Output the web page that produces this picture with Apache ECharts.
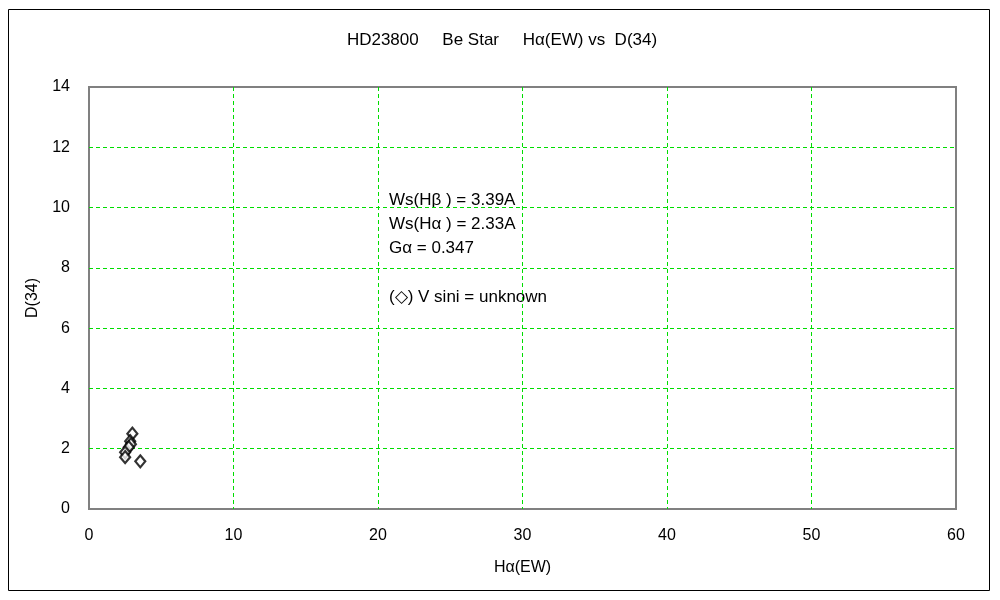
<!DOCTYPE html>
<html><head><meta charset="utf-8">
<script src="https://cdn.jsdelivr.net/npm/echarts@6/dist/echarts.min.js"></script>
<style>html,body{margin:0;padding:0;background:#fff;}#c{width:1000px;height:600px;}</style>
</head><body><div id="c"></div>
<script>
var titleText = 'HD23800     Be Star     H\u03b1(EW) vs  D(34)';
var xName = 'H\u03b1(EW)';
var yName = 'D(34)';
var haEW = [3.0, 2.85, 2.9, 2.75, 2.5, 2.5, 3.55];
var d34 = [2.5, 2.25, 2.15, 2.05, 1.88, 1.72, 1.58];
var notes = ['Ws(H\u03b2 ) = 3.39A', 'Ws(H\u03b1 ) = 2.33A', 'G\u03b1 = 0.347', '', '(\u25c7) V sini = unknown'];

var chart = echarts.init(document.getElementById('c'), null, {renderer:'canvas'});
var font = 'Liberation Sans';
var fs = 16;
var gridStyle = {show:true, showMinLine:false, showMaxLine:false, lineStyle:{color:'#00dd00', type:[4,3], width:1}};
chart.setOption({
  animation:false,
  backgroundColor:'#fff',
  title:{text:titleText, left:497, top:27, textAlign:'center',
    textStyle:{fontFamily:font, fontSize:17, fontWeight:'normal', color:'#000'}},
  grid:{left:89, right:44, top:87, bottom:91, show:true, borderColor:'#808080', borderWidth:2, backgroundColor:'transparent'},
  xAxis:{type:'value', min:0, max:60, interval:10, name:xName, nameLocation:'middle', nameGap:51,
    nameTextStyle:{fontFamily:font, fontSize:fs, color:'#000'},
    axisLine:{show:false}, axisTick:{show:false},
    axisLabel:{fontFamily:font, fontSize:fs, color:'#000', margin:19},
    splitLine:gridStyle},
  yAxis:{type:'value', min:0, max:14, interval:2, name:yName, nameLocation:'middle', nameGap:48,
    nameTextStyle:{fontFamily:font, fontSize:fs, color:'#000'},
    axisLine:{show:false}, axisTick:{show:false},
    axisLabel:{fontFamily:font, fontSize:fs, color:'#000', margin:19},
    splitLine:gridStyle},
  graphic:[
    {type:'rect', shape:{x:8.5, y:9.5, width:981, height:581}, style:{fill:'none', stroke:'#000', lineWidth:1}, z:-1},
    {type:'text', left:389, top:188, style:{text:notes.join('\n'), fontFamily:font, fontSize:17, lineHeight:24.3, fill:'#000'}}
  ],
  series:[{type:'scatter', data:haEW.map(function(v,i){return [v,d34[i]];}),
    symbol:'diamond', symbolSize:[10,12],
    itemStyle:{color:'#fff', borderColor:'#000', borderWidth:2.2}}]
});
</script></body></html>
